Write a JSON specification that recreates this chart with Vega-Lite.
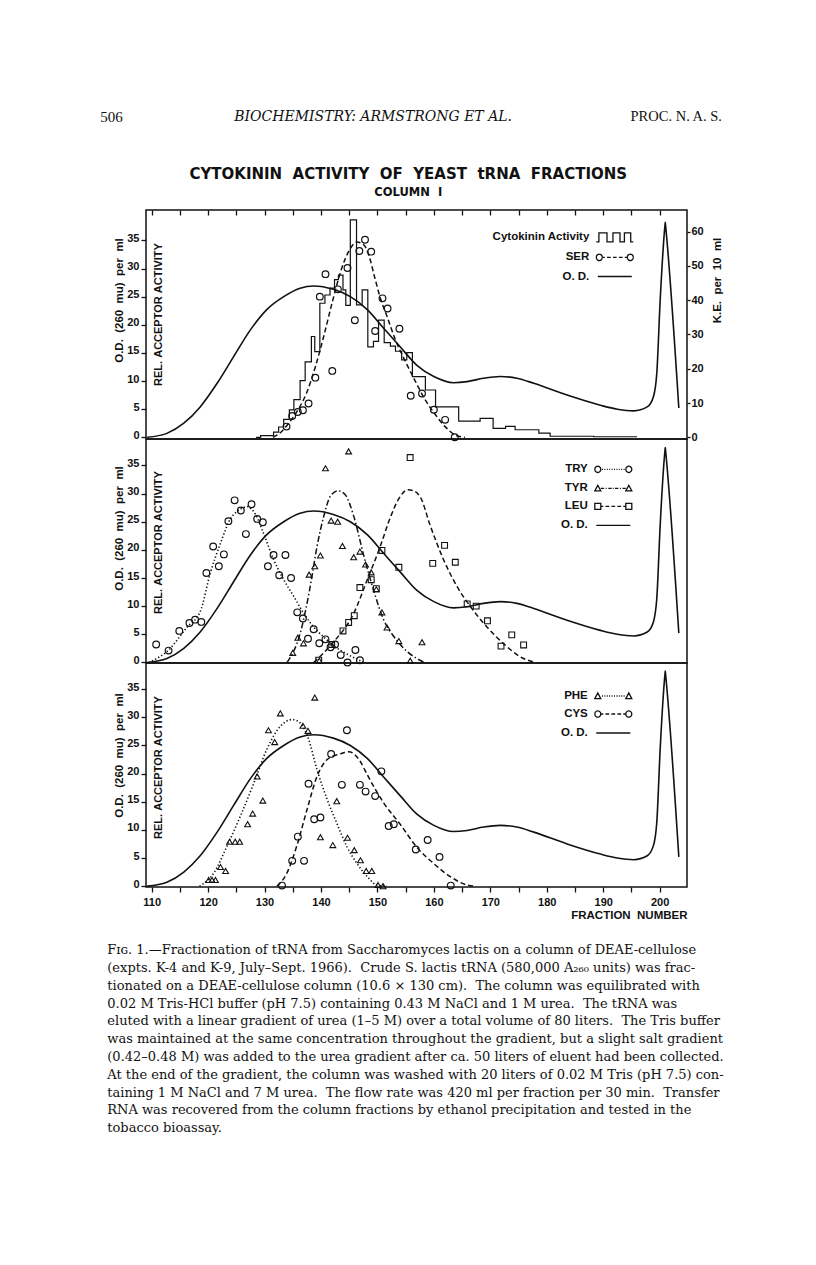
{
"$schema": "https://vega.github.io/schema/vega-lite/v6.json",
"background": "white",
"padding": {"left": 100, "top": 107, "right": 5, "bottom": 5},
"autosize": {"type": "pad"},
"spacing": 40,
"title": {
 "text": [
  "\u00a0\u00a0\u00a0\u00a0F\u026a\u0262. 1.\u2014Fractionation of tRNA from Saccharomyces lactis on a column of DEAE-cellulose",
  "(expts. K-4 and K-9, July\u2013Sept. 1966).\u00a0 Crude S. lactis tRNA (580,000 A\u2082\u2086\u2080 units) was frac-",
  "tionated on a DEAE-cellulose column (10.6 \u00d7 130 cm).\u00a0 The column was equilibrated with",
  "0.02 M Tris-HCl buffer (pH 7.5) containing 0.43 M NaCl and 1 M urea.\u00a0 The tRNA was",
  "eluted with a linear gradient of urea (1\u20135 M) over a total volume of 80 liters.\u00a0 The Tris buffer",
  "was maintained at the same concentration throughout the gradient, but a slight salt gradient",
  "(0.42\u20130.48 M) was added to the urea gradient after ca. 50 liters of eluent had been collected.",
  "At the end of the gradient, the column was washed with 20 liters of 0.02 M Tris (pH 7.5) con-",
  "taining 1 M NaCl and 7 M urea.\u00a0 The flow rate was 420 ml per fraction per 30 min.\u00a0 Transfer",
  "RNA was recovered from the column fractions by ethanol precipitation and tested in the",
  "tobacco bioassay."
 ],
 "orient": "bottom", "anchor": "start", "frame": "bounds",
 "font": "DejaVu Serif", "fontSize": 13, "fontWeight": "normal", "lineHeight": 17.8,
 "color": "#111", "offset": 23, "dx": 7
},
"datasets": {
 "od": [
  {"fraction":109.2,"od":0},{"fraction":112.7,"od":0.7},{"fraction":115.7,"od":2.5},{"fraction":118.6,"od":5.4},{"fraction":121.6,"od":9.6},{"fraction":124.5,"od":14.3},{"fraction":127.5,"od":19.1},{"fraction":130.4,"od":22.7},{"fraction":133.4,"od":25.0},{"fraction":136.3,"od":26.5},{"fraction":138.7,"od":26.9},{"fraction":142.2,"od":26.3},{"fraction":145.2,"od":25.0},{"fraction":148.2,"od":22.7},{"fraction":151.1,"od":19.4},{"fraction":154.1,"od":16.0},{"fraction":157.0,"od":12.8},{"fraction":160.0,"od":10.8},{"fraction":163.5,"od":9.7},{"fraction":165.9,"od":9.9},{"fraction":168.8,"od":10.5},{"fraction":171.8,"od":10.8},{"fraction":174.7,"od":10.5},{"fraction":177.7,"od":9.6},{"fraction":183.6,"od":7.5},{"fraction":189.5,"od":5.7},{"fraction":192.5,"od":5.0},{"fraction":195.4,"od":4.7},{"fraction":197.8,"od":5.4},{"fraction":198.9,"od":7.2},{"fraction":199.5,"od":11.4},{"fraction":200.1,"od":24.4},{"fraction":200.95,"od":37.7},{"fraction":201.0,"od":38.2},{"fraction":201.05,"od":37.7},{"fraction":203.4,"od":5.2}
 ],
 "cytokinin": [
  {"fraction":128.5,"ke":0},{"fraction":129.3,"ke":0.5},{"fraction":131.6,"ke":1.5},{"fraction":132.5,"ke":3.0},{"fraction":133.4,"ke":5.2},{"fraction":134.4,"ke":8.0},{"fraction":135.2,"ke":11.0},{"fraction":136.3,"ke":16.5},{"fraction":137.2,"ke":22.0},{"fraction":138.3,"ke":29.4},{"fraction":138.9,"ke":25.0},{"fraction":139.8,"ke":39.1},{"fraction":140.7,"ke":41.5},{"fraction":141.6,"ke":43.5},{"fraction":142.4,"ke":46.0},{"fraction":143.1,"ke":47.3},{"fraction":143.9,"ke":43.0},{"fraction":144.4,"ke":38.5},{"fraction":145.2,"ke":63.4},{"fraction":146.3,"ke":38.6},{"fraction":147.3,"ke":43.0},{"fraction":148.3,"ke":26.4},{"fraction":149.3,"ke":28.0},{"fraction":150.2,"ke":34.2},{"fraction":151.2,"ke":27.6},{"fraction":152.3,"ke":26.6},{"fraction":153.2,"ke":25.1},{"fraction":154.3,"ke":22.6},{"fraction":155.2,"ke":24.7},{"fraction":156.2,"ke":17.7},{"fraction":158.5,"ke":13.8},{"fraction":160.3,"ke":8.9},{"fraction":164.4,"ke":4.7},{"fraction":168.2,"ke":5.5},{"fraction":170.5,"ke":2.6},{"fraction":172.7,"ke":3.2},{"fraction":174.4,"ke":2.2},{"fraction":178.6,"ke":1.2},{"fraction":180.6,"ke":0.3},{"fraction":188.3,"ke":0.15},{"fraction":196.0,"ke":0.15}
 ],
 "p1pts": [
  {"series":"SER","fraction":133.9,"activity":1.9},{"series":"SER","fraction":134.9,"activity":3.8},{"series":"SER","fraction":135.9,"activity":4.5},{"series":"SER","fraction":136.8,"activity":4.8},{"series":"SER","fraction":137.8,"activity":6.0},{"series":"SER","fraction":139.0,"activity":10.6},{"series":"SER","fraction":139.8,"activity":25.0},{"series":"SER","fraction":140.8,"activity":29.0},{"series":"SER","fraction":142.0,"activity":11.8},{"series":"SER","fraction":143.0,"activity":26.3},{"series":"SER","fraction":144.7,"activity":30.1},{"series":"SER","fraction":146.0,"activity":20.8},{"series":"SER","fraction":146.8,"activity":33.1},{"series":"SER","fraction":147.8,"activity":35.1},{"series":"SER","fraction":148.9,"activity":33.0},{"series":"SER","fraction":149.6,"activity":18.9},{"series":"SER","fraction":150.9,"activity":24.7},{"series":"SER","fraction":151.8,"activity":22.9},{"series":"SER","fraction":153.9,"activity":19.3},{"series":"SER","fraction":155.9,"activity":7.4},{"series":"SER","fraction":157.9,"activity":7.8},{"series":"SER","fraction":160.0,"activity":4.9},{"series":"SER","fraction":162.0,"activity":3.1},{"series":"SER","fraction":163.7,"activity":0.0}
 ],
 "p1curve": [
  {"series":"SER","fraction":131.5,"activity":0},{"series":"SER","fraction":133.0,"activity":1.0},{"series":"SER","fraction":134.5,"activity":2.8},{"series":"SER","fraction":136.0,"activity":5.0},{"series":"SER","fraction":137.5,"activity":8.0},{"series":"SER","fraction":139.0,"activity":12.5},{"series":"SER","fraction":140.5,"activity":18.0},{"series":"SER","fraction":142.0,"activity":24.0},{"series":"SER","fraction":143.5,"activity":29.5},{"series":"SER","fraction":145.0,"activity":33.2},{"series":"SER","fraction":146.3,"activity":34.7},{"series":"SER","fraction":147.5,"activity":34.3},{"series":"SER","fraction":148.5,"activity":32.3},{"series":"SER","fraction":149.5,"activity":28.5},{"series":"SER","fraction":150.5,"activity":24.8},{"series":"SER","fraction":151.7,"activity":21.5},{"series":"SER","fraction":153.2,"activity":17.3},{"series":"SER","fraction":154.9,"activity":13.6},{"series":"SER","fraction":156.7,"activity":10.0},{"series":"SER","fraction":158.5,"activity":6.6},{"series":"SER","fraction":160.0,"activity":4.4},{"series":"SER","fraction":162.0,"activity":1.9},{"series":"SER","fraction":163.8,"activity":0.4},{"series":"SER","fraction":165.5,"activity":0}
 ],
 "p2pts": [
  {"series":"TRY","fraction":110.8,"activity":3.2},{"series":"TRY","fraction":113.0,"activity":2.1},{"series":"TRY","fraction":114.9,"activity":5.6},{"series":"TRY","fraction":116.7,"activity":7.0},{"series":"TRY","fraction":117.7,"activity":7.6},{"series":"TRY","fraction":118.8,"activity":7.2},{"series":"TRY","fraction":119.7,"activity":15.9},{"series":"TRY","fraction":120.9,"activity":20.6},{"series":"TRY","fraction":121.9,"activity":17.1},{"series":"TRY","fraction":122.8,"activity":19.2},{"series":"TRY","fraction":123.6,"activity":25.1},{"series":"TRY","fraction":124.7,"activity":28.8},{"series":"TRY","fraction":125.8,"activity":27.0},{"series":"TRY","fraction":126.7,"activity":22.8},{"series":"TRY","fraction":127.7,"activity":28.1},{"series":"TRY","fraction":128.7,"activity":25.5},{"series":"TRY","fraction":129.7,"activity":24.9},{"series":"TRY","fraction":130.6,"activity":17.1},{"series":"TRY","fraction":131.6,"activity":19.1},{"series":"TRY","fraction":132.6,"activity":15.5},{"series":"TRY","fraction":133.7,"activity":19.1},{"series":"TRY","fraction":134.7,"activity":15.0},{"series":"TRY","fraction":135.8,"activity":8.9},{"series":"TRY","fraction":136.8,"activity":7.8},{"series":"TRY","fraction":137.7,"activity":4.2},{"series":"TRY","fraction":138.7,"activity":5.9},{"series":"TRY","fraction":139.7,"activity":3.4},{"series":"TRY","fraction":140.8,"activity":4.1},{"series":"TRY","fraction":141.7,"activity":2.7},{"series":"TRY","fraction":142.5,"activity":3.2},{"series":"TRY","fraction":143.5,"activity":1.3},{"series":"TRY","fraction":144.7,"activity":0.0},{"series":"TRY","fraction":146.1,"activity":2.2},{"series":"TRY","fraction":146.9,"activity":0.4},
  {"series":"TYR","fraction":135.0,"activity":1.7},{"series":"TYR","fraction":135.9,"activity":4.4},{"series":"TYR","fraction":136.9,"activity":3.4},{"series":"TYR","fraction":137.9,"activity":15.6},{"series":"TYR","fraction":138.9,"activity":17.1},{"series":"TYR","fraction":139.7,"activity":0.3},{"series":"TYR","fraction":139.9,"activity":19.0},{"series":"TYR","fraction":140.8,"activity":34.5},{"series":"TYR","fraction":141.8,"activity":25.2},{"series":"TYR","fraction":142.95,"activity":25.0},{"series":"TYR","fraction":143.8,"activity":20.7},{"series":"TYR","fraction":144.9,"activity":37.5},{"series":"TYR","fraction":145.8,"activity":18.7},{"series":"TYR","fraction":146.9,"activity":19.7},{"series":"TYR","fraction":147.9,"activity":17.4},{"series":"TYR","fraction":148.9,"activity":16.0},{"series":"TYR","fraction":149.8,"activity":13.0},{"series":"TYR","fraction":150.8,"activity":8.9},{"series":"TYR","fraction":151.7,"activity":6.2},{"series":"TYR","fraction":153.8,"activity":3.8},{"series":"TYR","fraction":155.8,"activity":0.3},{"series":"TYR","fraction":157.9,"activity":3.6},
  {"series":"LEU","fraction":139.6,"activity":0.4},{"series":"LEU","fraction":141.9,"activity":3.2},{"series":"LEU","fraction":143.9,"activity":5.6},{"series":"LEU","fraction":144.9,"activity":7.1},{"series":"LEU","fraction":145.9,"activity":8.3},{"series":"LEU","fraction":146.9,"activity":13.3},{"series":"LEU","fraction":148.9,"activity":14.7},{"series":"LEU","fraction":149.8,"activity":13.1},{"series":"LEU","fraction":150.8,"activity":19.9},{"series":"LEU","fraction":153.8,"activity":16.9},{"series":"LEU","fraction":155.8,"activity":36.4},{"series":"LEU","fraction":159.8,"activity":17.6},{"series":"LEU","fraction":161.9,"activity":20.8},{"series":"LEU","fraction":163.8,"activity":17.8},{"series":"LEU","fraction":165.9,"activity":10.4},{"series":"LEU","fraction":167.5,"activity":10.0},{"series":"LEU","fraction":169.5,"activity":7.4},{"series":"LEU","fraction":171.9,"activity":2.9},{"series":"LEU","fraction":173.8,"activity":4.9},{"series":"LEU","fraction":175.9,"activity":3.1}
 ],
 "p2curve": [
  {"series":"TRY","fraction":109.5,"activity":0},{"series":"TRY","fraction":113.0,"activity":2.2},{"series":"TRY","fraction":116.3,"activity":6.3},{"series":"TRY","fraction":118.6,"activity":9.0},{"series":"TRY","fraction":120.4,"activity":15.9},{"series":"TRY","fraction":122.2,"activity":21.2},{"series":"TRY","fraction":123.9,"activity":25.4},{"series":"TRY","fraction":125.7,"activity":27.2},{"series":"TRY","fraction":126.9,"activity":27.7},{"series":"TRY","fraction":128.4,"activity":26.3},{"series":"TRY","fraction":129.8,"activity":23.0},{"series":"TRY","fraction":131.6,"activity":18.3},{"series":"TRY","fraction":133.4,"activity":14.7},{"series":"TRY","fraction":135.2,"activity":11.7},{"series":"TRY","fraction":136.9,"activity":8.8},{"series":"TRY","fraction":138.7,"activity":6.3},{"series":"TRY","fraction":140.5,"activity":4.5},{"series":"TRY","fraction":142.2,"activity":3.0},{"series":"TRY","fraction":144.6,"activity":1.5},{"series":"TRY","fraction":147.6,"activity":0},
  {"series":"TYR","fraction":134.0,"activity":0},{"series":"TYR","fraction":136.3,"activity":5.1},{"series":"TYR","fraction":138.1,"activity":13.5},{"series":"TYR","fraction":139.3,"activity":20.6},{"series":"TYR","fraction":140.5,"activity":26.0},{"series":"TYR","fraction":141.7,"activity":29.6},{"series":"TYR","fraction":143.0,"activity":30.5},{"series":"TYR","fraction":144.3,"activity":29.8},{"series":"TYR","fraction":145.8,"activity":26.0},{"series":"TYR","fraction":147.6,"activity":18.9},{"series":"TYR","fraction":149.3,"activity":12.9},{"series":"TYR","fraction":151.1,"activity":7.6},{"series":"TYR","fraction":152.9,"activity":4.6},{"series":"TYR","fraction":155.2,"activity":2.0},{"series":"TYR","fraction":158.3,"activity":0},
  {"series":"LEU","fraction":138.7,"activity":0},{"series":"LEU","fraction":142.2,"activity":3.6},{"series":"LEU","fraction":145.8,"activity":8.7},{"series":"LEU","fraction":148.2,"activity":14.7},{"series":"LEU","fraction":150.5,"activity":20.6},{"series":"LEU","fraction":152.3,"activity":25.8},{"series":"LEU","fraction":153.8,"activity":29.1},{"series":"LEU","fraction":155.4,"activity":30.7},{"series":"LEU","fraction":156.6,"activity":30.4},{"series":"LEU","fraction":157.6,"activity":29.4},{"series":"LEU","fraction":159.4,"activity":24.2},{"series":"LEU","fraction":161.7,"activity":18.3},{"series":"LEU","fraction":164.1,"activity":13.5},{"series":"LEU","fraction":166.5,"activity":9.9},{"series":"LEU","fraction":169.4,"activity":6.3},{"series":"LEU","fraction":172.4,"activity":3.3},{"series":"LEU","fraction":175.3,"activity":1.0},{"series":"LEU","fraction":178.0,"activity":0}
 ],
 "p3pts": [
  {"series":"PHE","fraction":120.1,"activity":1.1},{"series":"PHE","fraction":120.7,"activity":1.1},{"series":"PHE","fraction":121.3,"activity":1.1},{"series":"PHE","fraction":122.2,"activity":3.4},{"series":"PHE","fraction":123.1,"activity":2.7},{"series":"PHE","fraction":123.8,"activity":7.9},{"series":"PHE","fraction":124.8,"activity":7.9},{"series":"PHE","fraction":125.6,"activity":7.9},{"series":"PHE","fraction":127.0,"activity":11.0},{"series":"PHE","fraction":127.9,"activity":12.9},{"series":"PHE","fraction":128.7,"activity":19.5},{"series":"PHE","fraction":129.7,"activity":15.2},{"series":"PHE","fraction":130.7,"activity":27.7},{"series":"PHE","fraction":131.8,"activity":25.6},{"series":"PHE","fraction":132.8,"activity":30.7},{"series":"PHE","fraction":136.8,"activity":28.5},{"series":"PHE","fraction":137.7,"activity":27.6},{"series":"PHE","fraction":138.9,"activity":33.5},{"series":"PHE","fraction":139.9,"activity":8.7},{"series":"PHE","fraction":142.1,"activity":7.3},{"series":"PHE","fraction":142.8,"activity":15.1},{"series":"PHE","fraction":144.7,"activity":8.6},{"series":"PHE","fraction":145.9,"activity":6.4},{"series":"PHE","fraction":147.0,"activity":4.6},{"series":"PHE","fraction":148.0,"activity":2.7},{"series":"PHE","fraction":149.0,"activity":2.7},{"series":"PHE","fraction":150.1,"activity":0.2},{"series":"PHE","fraction":151.0,"activity":0},
  {"series":"CYS","fraction":133.1,"activity":0.1},{"series":"CYS","fraction":134.9,"activity":4.5},{"series":"CYS","fraction":135.9,"activity":8.8},{"series":"CYS","fraction":137.0,"activity":4.5},{"series":"CYS","fraction":137.8,"activity":18.2},{"series":"CYS","fraction":138.8,"activity":11.9},{"series":"CYS","fraction":139.9,"activity":12.2},{"series":"CYS","fraction":141.8,"activity":23.5},{"series":"CYS","fraction":143.7,"activity":18.0},{"series":"CYS","fraction":144.6,"activity":27.7},{"series":"CYS","fraction":146.9,"activity":18.0},{"series":"CYS","fraction":147.9,"activity":16.8},{"series":"CYS","fraction":149.6,"activity":16.0},{"series":"CYS","fraction":150.7,"activity":20.4},{"series":"CYS","fraction":152.0,"activity":10.7},{"series":"CYS","fraction":152.9,"activity":11.0},{"series":"CYS","fraction":156.8,"activity":6.5},{"series":"CYS","fraction":158.9,"activity":8.2},{"series":"CYS","fraction":161.0,"activity":5.2},{"series":"CYS","fraction":163.0,"activity":0.1}
 ],
 "p3curve": [
  {"series":"PHE","fraction":118.5,"activity":0},{"series":"PHE","fraction":121.0,"activity":2.3},{"series":"PHE","fraction":123.3,"activity":7.0},{"series":"PHE","fraction":125.7,"activity":12.4},{"series":"PHE","fraction":128.1,"activity":18.3},{"series":"PHE","fraction":130.4,"activity":24.3},{"series":"PHE","fraction":132.8,"activity":28.4},{"series":"PHE","fraction":134.9,"activity":29.6},{"series":"PHE","fraction":136.3,"activity":29.0},{"series":"PHE","fraction":137.8,"activity":26.1},{"series":"PHE","fraction":139.3,"activity":20.7},{"series":"PHE","fraction":141.1,"activity":15.4},{"series":"PHE","fraction":142.8,"activity":11.2},{"series":"PHE","fraction":144.6,"activity":7.0},{"series":"PHE","fraction":146.4,"activity":4.0},{"series":"PHE","fraction":148.2,"activity":1.7},{"series":"PHE","fraction":149.9,"activity":0.2},{"series":"PHE","fraction":151.7,"activity":0},
  {"series":"CYS","fraction":132.2,"activity":0},{"series":"CYS","fraction":134.0,"activity":2.4},{"series":"CYS","fraction":135.7,"activity":7.1},{"series":"CYS","fraction":137.5,"activity":13.5},{"series":"CYS","fraction":139.3,"activity":19.5},{"series":"CYS","fraction":141.1,"activity":22.5},{"series":"CYS","fraction":143.4,"activity":23.5},{"series":"CYS","fraction":144.9,"activity":23.9},{"series":"CYS","fraction":147.0,"activity":22.1},{"series":"CYS","fraction":148.2,"activity":19.8},{"series":"CYS","fraction":151.1,"activity":14.8},{"series":"CYS","fraction":154.1,"activity":10.9},{"series":"CYS","fraction":157.0,"activity":6.9},{"series":"CYS","fraction":160.0,"activity":4.0},{"series":"CYS","fraction":162.9,"activity":1.7},{"series":"CYS","fraction":165.9,"activity":0.2},{"series":"CYS","fraction":167.4,"activity":0}
 ]
},
"vconcat": [
 {
  "width": 541, "height": 20,
  "view": {"stroke": null},
  "data": {"values": [{"slot": "page", "text": "506"}, {"slot": "head", "text": "BIOCHEMISTRY: ARMSTRONG ET AL."}, {"slot": "journal", "text": "PROC. N. A. S."}]},
  "encoding": {
   "x": {"field": "slot", "type": "nominal", "scale": {"type": "point", "domain": ["page", "head", "journal"], "range": [-45.7, 576], "padding": 0}, "axis": null},
   "text": {"field": "text", "type": "nominal"}
  },
  "layer": [
   {"transform": [{"filter": "datum.slot === 'page'"}], "mark": {"type": "text", "align": "left", "baseline": "middle", "font": "Liberation Serif", "fontSize": 15, "color": "#111"}},
   {"transform": [{"filter": "datum.slot === 'head'"}], "mark": {"type": "text", "align": "center", "baseline": "middle", "dx": -38, "font": "DejaVu Serif", "fontStyle": "italic", "fontSize": 14, "color": "#111"}},
   {"transform": [{"filter": "datum.slot === 'journal'"}], "mark": {"type": "text", "align": "right", "baseline": "middle", "font": "Liberation Serif", "fontSize": 14.5, "color": "#111"}}
  ]
 },
 {
  "title": {"text": "CYTOKININ\u00a0\u00a0ACTIVITY\u00a0\u00a0OF\u00a0\u00a0YEAST\u00a0\u00a0tRNA\u00a0\u00a0FRACTIONS", "subtitle": "COLUMN\u00a0\u00a0I", "anchor": "middle", "frame": "bounds", "font": "DejaVu Sans", "fontSize": 15, "fontWeight": "bold", "color": "#111", "subtitleFont": "DejaVu Sans", "subtitleFontSize": 11.5, "subtitleFontWeight": "bold", "subtitleColor": "#111", "subtitlePadding": 5, "offset": 10, "dx": -10},
  "spacing": 0,
  "bounds": "flush",
  "resolve": {"scale": {"shape": "independent"}, "legend": {"shape": "independent"}},
  "vconcat": [
   {
    "width": 541, "height": 229,
    "resolve": {"scale": {"y": "independent"}, "axis": {"x": "independent", "y": "independent"}},
    "layer": [
     {"data": {"name": "od"}, "mark": {"type": "line", "interpolate": "monotone", "color": "#111", "strokeWidth": 1.6},
      "encoding": {
       "x": {"field": "fraction", "type": "quantitative", "scale": {"domain": [109, 204.85], "nice": false, "zero": false}, "axis": {"orient": "top", "values": [110,115,120,125,130,135,140,145,150,155,160,165,170,175,180,185,190,195,200], "labels": false, "tickSize": -5, "title": null}},
       "y": {"field": "od", "type": "quantitative", "scale": {"domain": [-0.3, 40.4], "nice": false, "zero": false}, "axis": {"orient": "left", "values": [0,5,10,15,20,25,30,35], "title": "O.D.\u00a0 (260\u00a0 mu)\u00a0 per\u00a0 ml", "titleY": 90, "titlePadding": 2, "tickSize": 5, "labelPadding": 2, "labelOffset": -2}}
      }},
     {"data": {"name": "p1curve"}, "mark": {"type": "line", "interpolate": "monotone", "color": "#111", "strokeWidth": 1.5, "strokeDash": [5, 3]},
      "encoding": {
       "x": {"field": "fraction", "type": "quantitative", "scale": {"domain": [109, 204.85], "nice": false, "zero": false}, "axis": null},
       "y": {"field": "activity", "type": "quantitative", "scale": {"domain": [-0.3, 40.4], "nice": false, "zero": false}, "axis": null}
      }},
     {"data": {"name": "p1pts"}, "mark": {"type": "point", "shape": "circle", "filled": false, "color": "#111", "strokeWidth": 1.2, "size": 45, "opacity": 1},
      "encoding": {
       "x": {"field": "fraction", "type": "quantitative", "scale": {"domain": [109, 204.85], "nice": false, "zero": false}, "axis": null},
       "y": {"field": "activity", "type": "quantitative", "scale": {"domain": [-0.3, 40.4], "nice": false, "zero": false}, "axis": {"orient": "left", "offset": -17.5, "labels": false, "ticks": false, "domain": false, "title": "REL.\u00a0ACCEPTOR\u00a0ACTIVITY", "titlePadding": 0, "minExtent": 0, "maxExtent": 0, "titleY": 104, "titleFontSize": 11}}
      }},
     {"data": {"name": "cytokinin"}, "mark": {"type": "line", "interpolate": "step-after", "color": "#111", "strokeWidth": 1.2},
      "encoding": {
       "x": {"field": "fraction", "type": "quantitative", "scale": {"domain": [109, 204.85], "nice": false, "zero": false}, "axis": null},
       "y": {"field": "ke", "type": "quantitative", "scale": {"domain": [-0.5, 66.3], "nice": false, "zero": false}, "axis": {"orient": "right", "values": [0,10,20,30,40,50,60], "title": "K.E.\u00a0\u00a0per\u00a0\u00a010\u00a0\u00a0ml", "titleAngle": 270, "titleBaseline": "top", "titleY": 70, "titlePadding": 8, "tickSize": 3, "labelPadding": 1}}
      }},
     {"data": {"values": []}, "mark": {"type": "point", "filled": false, "color": "#111", "strokeWidth": 1.3},
      "encoding": {"shape": {"field": "series", "type": "nominal",
       "scale": {"domain": ["Cytokinin Activity", "SER", "O. D."], "range": [
        "M-2.176,0.529H-1.871V-0.529H-0.918V0.529H-0.218V-0.529H0.612V0.529H1.129V-0.529H1.871V0.529H2.176",
        "M-1.471,0A0.353,0.353,0,1,1,-2.176,0A0.353,0.353,0,1,1,-1.471,0M-1.471,0H-1.176M-0.918,0H-0.482M-0.218,0H0.218M0.482,0H0.918M1.176,0H1.471M2.176,0A0.353,0.353,0,1,1,1.471,0A0.353,0.353,0,1,1,2.176,0",
        "M-2,0H2"]},
       "legend": {"title": null, "orient": "none", "legendX": 459.3, "legendY": 17.8, "rowPadding": 3.1}}}}
    ]
   },
   {
    "width": 541, "height": 224,
    "resolve": {"scale": {"y": "independent"}, "axis": {"x": "independent", "y": "independent"}},
    "layer": [
     {"data": {"name": "od"}, "mark": {"type": "line", "interpolate": "monotone", "color": "#111", "strokeWidth": 1.6},
      "encoding": {
       "x": {"field": "fraction", "type": "quantitative", "scale": {"domain": [109, 204.85], "nice": false, "zero": false}, "axis": null},
       "y": {"field": "od", "type": "quantitative", "scale": {"domain": [-0.1, 39.7], "nice": false, "zero": false}, "axis": {"orient": "left", "values": [0,5,10,15,20,25,30,35], "title": "O.D.\u00a0 (260\u00a0 mu)\u00a0 per\u00a0 ml", "titleY": 89, "titlePadding": 2, "tickSize": 5, "labelPadding": 2, "labelOffset": -2}}
      }},
     {"data": {"name": "p2curve"}, "transform": [{"filter": "datum.series === 'TRY'"}], "mark": {"type": "line", "interpolate": "monotone", "color": "#111", "strokeWidth": 1.6, "strokeDash": [1.3, 2.2]},
      "encoding": {
       "x": {"field": "fraction", "type": "quantitative", "scale": {"domain": [109, 204.85], "nice": false, "zero": false}, "axis": null},
       "y": {"field": "activity", "type": "quantitative", "scale": {"domain": [-0.1, 39.7], "nice": false, "zero": false}, "axis": null}
      }},
     {"data": {"name": "p2curve"}, "transform": [{"filter": "datum.series === 'TYR'"}], "mark": {"type": "line", "interpolate": "monotone", "color": "#111", "strokeWidth": 1.5, "strokeDash": [6, 2.5, 1.5, 2.5]},
      "encoding": {
       "x": {"field": "fraction", "type": "quantitative", "scale": {"domain": [109, 204.85], "nice": false, "zero": false}, "axis": null},
       "y": {"field": "activity", "type": "quantitative", "scale": {"domain": [-0.1, 39.7], "nice": false, "zero": false}, "axis": null}
      }},
     {"data": {"name": "p2curve"}, "transform": [{"filter": "datum.series === 'LEU'"}], "mark": {"type": "line", "interpolate": "monotone", "color": "#111", "strokeWidth": 1.5, "strokeDash": [5, 3]},
      "encoding": {
       "x": {"field": "fraction", "type": "quantitative", "scale": {"domain": [109, 204.85], "nice": false, "zero": false}, "axis": null},
       "y": {"field": "activity", "type": "quantitative", "scale": {"domain": [-0.1, 39.7], "nice": false, "zero": false}, "axis": null}
      }},
     {"data": {"name": "p2pts"}, "transform": [{"filter": "datum.series === 'TRY'"}], "mark": {"type": "point", "shape": "circle", "filled": false, "color": "#111", "strokeWidth": 1.2, "size": 45, "opacity": 1},
      "encoding": {
       "x": {"field": "fraction", "type": "quantitative", "scale": {"domain": [109, 204.85], "nice": false, "zero": false}, "axis": null},
       "y": {"field": "activity", "type": "quantitative", "scale": {"domain": [-0.1, 39.7], "nice": false, "zero": false}, "axis": {"orient": "left", "offset": -17.5, "labels": false, "ticks": false, "domain": false, "title": "REL.\u00a0ACCEPTOR\u00a0ACTIVITY", "titlePadding": 0, "minExtent": 0, "maxExtent": 0, "titleY": 103, "titleFontSize": 11}}
      }},
     {"data": {"name": "p2pts"}, "transform": [{"filter": "datum.series === 'TYR'"}], "mark": {"type": "point", "shape": "triangle-up", "filled": false, "color": "#111", "strokeWidth": 1.1, "size": 34, "opacity": 1},
      "encoding": {
       "x": {"field": "fraction", "type": "quantitative", "scale": {"domain": [109, 204.85], "nice": false, "zero": false}, "axis": null},
       "y": {"field": "activity", "type": "quantitative", "scale": {"domain": [-0.1, 39.7], "nice": false, "zero": false}, "axis": null}
      }},
     {"data": {"name": "p2pts"}, "transform": [{"filter": "datum.series === 'LEU'"}], "mark": {"type": "point", "shape": "square", "filled": false, "color": "#111", "strokeWidth": 1.1, "size": 34, "opacity": 1},
      "encoding": {
       "x": {"field": "fraction", "type": "quantitative", "scale": {"domain": [109, 204.85], "nice": false, "zero": false}, "axis": null},
       "y": {"field": "activity", "type": "quantitative", "scale": {"domain": [-0.1, 39.7], "nice": false, "zero": false}, "axis": null}
      }},
     {"data": {"values": []}, "mark": {"type": "point", "filled": false, "color": "#111", "strokeWidth": 1.3},
      "encoding": {"shape": {"field": "series", "type": "nominal",
       "scale": {"domain": ["TRY", "TYR", "LEU", "O. D."], "range": [
        "M-1.471,0A0.353,0.353,0,1,1,-2.176,0A0.353,0.353,0,1,1,-1.471,0M-1.33,0H-1.212M-1.047,0H-0.929M-0.765,0H-0.647M-0.483,0H-0.365M-0.2,0H-0.082M0.082,0H0.2M0.365,0H0.483M0.647,0H0.765M0.929,0H1.047M1.212,0H1.33M2.176,0A0.353,0.353,0,1,1,1.471,0A0.353,0.353,0,1,1,2.176,0",
        "M-2.176,0.306L-1.824,-0.353L-1.471,0.306ZM-1.471,0H-1.082M-0.894,0H-0.776M-0.588,0H-0.2M-0.059,0H0.059M0.2,0H0.588M0.776,0H0.894M1.082,0H1.471M1.471,0.306L1.824,-0.353L2.176,0.306Z",
        "M-2.176,-0.353H-1.471V0.353H-2.176ZM-1.471,0H-1.176M-0.918,0H-0.482M-0.218,0H0.218M0.482,0H0.918M1.176,0H1.471M1.471,-0.353H2.176V0.353H1.471Z",
        "M-2,0H2"]},
       "legend": {"title": null, "orient": "none", "legendX": 457.8, "legendY": 20.8, "rowPadding": 3.0}}}}
    ]
   },
   {
    "width": 541, "height": 224,
    "resolve": {"scale": {"y": "independent"}, "axis": {"x": "independent", "y": "independent"}},
    "layer": [
     {"data": {"name": "od"}, "mark": {"type": "line", "interpolate": "monotone", "color": "#111", "strokeWidth": 1.6},
      "encoding": {
       "x": {"field": "fraction", "type": "quantitative", "scale": {"domain": [109, 204.85], "nice": false, "zero": false}, "axis": {"orient": "bottom", "values": [110,115,120,125,130,135,140,145,150,155,160,165,170,175,180,185,190,195,200], "labelExpr": "datum.value % 10 === 0 ? datum.label : ''", "tickSize": 5, "labelPadding": 4, "title": "FRACTION\u00a0\u00a0NUMBER", "titleAnchor": "end", "titlePadding": 2}},
       "y": {"field": "od", "type": "quantitative", "scale": {"domain": [-0.15, 39.65], "nice": false, "zero": false}, "axis": {"orient": "left", "values": [0,5,10,15,20,25,30,35], "title": "O.D.\u00a0 (260\u00a0 mu)\u00a0 per\u00a0 ml", "titleY": 92, "titlePadding": 2, "tickSize": 5, "labelPadding": 2, "labelOffset": -2}}
      }},
     {"data": {"name": "p3curve"}, "transform": [{"filter": "datum.series === 'PHE'"}], "mark": {"type": "line", "interpolate": "monotone", "color": "#111", "strokeWidth": 1.6, "strokeDash": [1.3, 2.2]},
      "encoding": {
       "x": {"field": "fraction", "type": "quantitative", "scale": {"domain": [109, 204.85], "nice": false, "zero": false}, "axis": null},
       "y": {"field": "activity", "type": "quantitative", "scale": {"domain": [-0.15, 39.65], "nice": false, "zero": false}, "axis": null}
      }},
     {"data": {"name": "p3curve"}, "transform": [{"filter": "datum.series === 'CYS'"}], "mark": {"type": "line", "interpolate": "monotone", "color": "#111", "strokeWidth": 1.5, "strokeDash": [5, 3]},
      "encoding": {
       "x": {"field": "fraction", "type": "quantitative", "scale": {"domain": [109, 204.85], "nice": false, "zero": false}, "axis": null},
       "y": {"field": "activity", "type": "quantitative", "scale": {"domain": [-0.15, 39.65], "nice": false, "zero": false}, "axis": null}
      }},
     {"data": {"name": "p3pts"}, "transform": [{"filter": "datum.series === 'PHE'"}], "mark": {"type": "point", "shape": "triangle-up", "filled": false, "color": "#111", "strokeWidth": 1.1, "size": 34, "opacity": 1},
      "encoding": {
       "x": {"field": "fraction", "type": "quantitative", "scale": {"domain": [109, 204.85], "nice": false, "zero": false}, "axis": null},
       "y": {"field": "activity", "type": "quantitative", "scale": {"domain": [-0.15, 39.65], "nice": false, "zero": false}, "axis": {"orient": "left", "offset": -17.5, "labels": false, "ticks": false, "domain": false, "title": "REL.\u00a0ACCEPTOR\u00a0ACTIVITY", "titlePadding": 0, "minExtent": 0, "maxExtent": 0, "titleY": 104, "titleFontSize": 11}}
      }},
     {"data": {"name": "p3pts"}, "transform": [{"filter": "datum.series === 'CYS'"}], "mark": {"type": "point", "shape": "circle", "filled": false, "color": "#111", "strokeWidth": 1.2, "size": 45, "opacity": 1},
      "encoding": {
       "x": {"field": "fraction", "type": "quantitative", "scale": {"domain": [109, 204.85], "nice": false, "zero": false}, "axis": null},
       "y": {"field": "activity", "type": "quantitative", "scale": {"domain": [-0.15, 39.65], "nice": false, "zero": false}, "axis": null}
      }},
     {"data": {"values": []}, "mark": {"type": "point", "filled": false, "color": "#111", "strokeWidth": 1.3},
      "encoding": {"shape": {"field": "series", "type": "nominal",
       "scale": {"domain": ["PHE", "CYS", "O. D."], "range": [
        "M-2.176,0.306L-1.824,-0.353L-1.471,0.306ZM-1.33,0H-1.212M-1.047,0H-0.929M-0.765,0H-0.647M-0.483,0H-0.365M-0.2,0H-0.082M0.082,0H0.2M0.365,0H0.483M0.647,0H0.765M0.929,0H1.047M1.212,0H1.33M1.471,0.306L1.824,-0.353L2.176,0.306Z",
        "M-1.471,0A0.353,0.353,0,1,1,-2.176,0A0.353,0.353,0,1,1,-1.471,0M-1.471,0H-1.176M-0.918,0H-0.482M-0.218,0H0.218M0.482,0H0.918M1.176,0H1.471M2.176,0A0.353,0.353,0,1,1,1.471,0A0.353,0.353,0,1,1,2.176,0",
        "M-2,0H2"]},
       "legend": {"title": null, "orient": "none", "legendX": 457.8, "legendY": 23.5, "rowPadding": 3.0}}}}
    ]
   }
  ]
 }
],
"config": {
 "view": {"stroke": "#111", "strokeWidth": 1.5},
 "axis": {"grid": false, "domain": false, "labelFont": "Liberation Sans", "labelFontWeight": "bold", "labelFontSize": 11, "labelColor": "#111", "titleFont": "Liberation Sans", "titleFontWeight": "bold", "titleFontSize": 11.5, "titleColor": "#111", "tickColor": "#111", "tickWidth": 1.3, "labelOverlap": false, "labelFlush": false},
 "legend": {"symbolSize": 289, "labelAlign": "right", "labelOffset": -35, "labelFont": "Liberation Sans", "labelFontWeight": "bold", "labelFontSize": 11.5, "labelColor": "#111", "symbolStrokeWidth": 1.3, "symbolStrokeColor": "#111", "symbolFillColor": "transparent", "symbolOpacity": 1, "padding": 0}
}
}
